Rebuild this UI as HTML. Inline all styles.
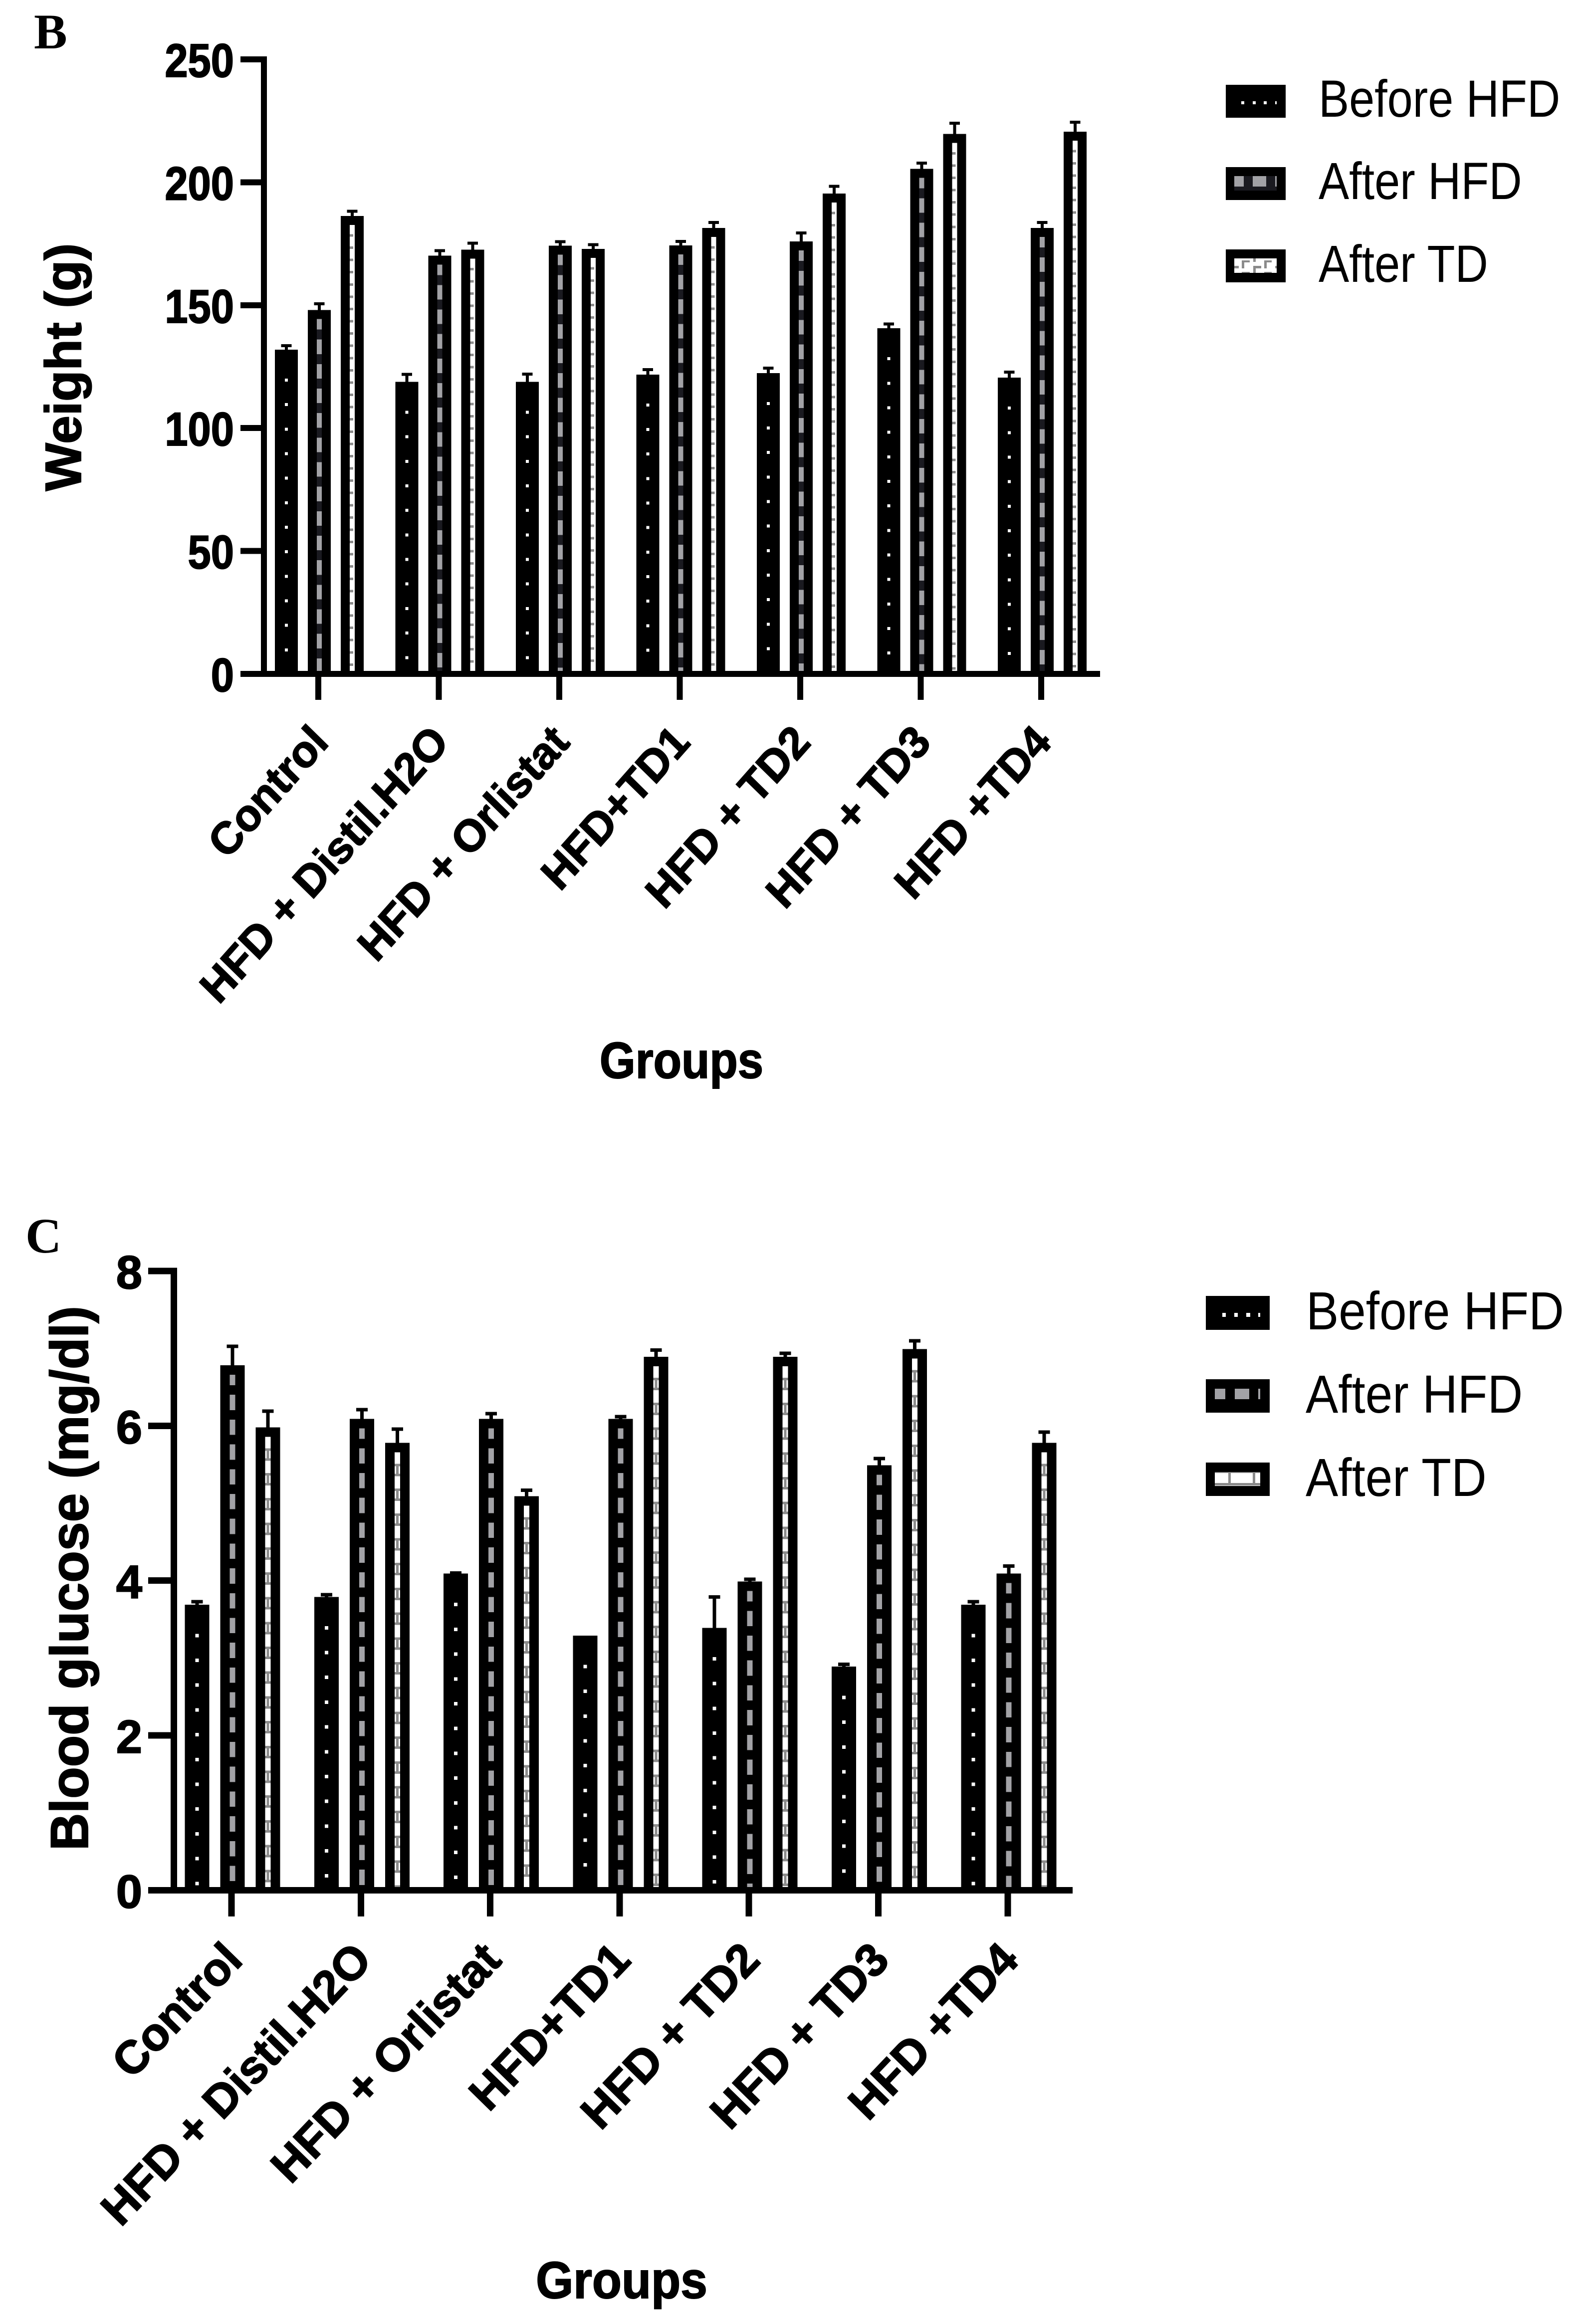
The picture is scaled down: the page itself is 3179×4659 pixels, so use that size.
<!DOCTYPE html>
<html lang="en">
<head>
<meta charset="utf-8">
<title>Weight and blood glucose by group</title>
<style>
html,body{margin:0;padding:0;background:#fff;}
svg{display:block;}
text{font-family:"Liberation Sans",sans-serif;fill:#000;}
.b{font-weight:bold;stroke:#000;stroke-width:2px;}
.panel{font-family:"Liberation Serif",serif;font-weight:bold;}
.crisp{shape-rendering:crispEdges;}
</style>
</head>
<body>
<svg id="fig" xmlns="http://www.w3.org/2000/svg" width="3179" height="4659" viewBox="0 0 3179 4659">
  <rect x="0" y="0" width="3179" height="4659" fill="#fff"></rect>
  <text class="panel" x="68" y="97" font-size="100">B</text>
  <text class="panel" x="51" y="2511" font-size="100">C</text>
  <g id="chartB">
    <text class="b" transform="translate(162,736) rotate(-90)" text-anchor="middle" font-size="102">Weight (g)</text>
    <text class="b" transform="translate(1366,2161) scale(0.905,1)" text-anchor="middle" font-size="102">Groups</text>
  </g>
  <g id="chartC">
    <text class="b" transform="translate(176,3164) rotate(-90) scale(0.972,1)" text-anchor="middle" font-size="107">Blood glucose (mg/dl)</text>
    <text class="b" transform="translate(1246,4607) scale(0.93,1)" text-anchor="middle" font-size="104">Groups</text>
  </g>

  <g id="legendB" class="crisp">
    <g>
      <rect x="2457" y="170" width="120" height="66" fill="#000"></rect>
      <path d="M2488 203h6v6h-6zM2511 203h6v6h-6zM2533 203h6v6h-6zM2556 203h3v6h-3z" fill="#fff"></path>
      <text transform="translate(2643,234) scale(0.877,1)" font-size="104.6">Before HFD</text>
    </g>
    <g>
      <rect x="2457" y="335" width="120" height="66" fill="#000"></rect>
      <rect x="2474" y="353" width="85" height="29" fill="#1a1a20"></rect>
      <path d="M2474 353h19v21h-19zM2511 353h27v21h-27zM2556 353h3v21h-3z" fill="#a2a2a6"></path>
      <text transform="translate(2643,399) scale(0.877,1)" font-size="104.6">After HFD</text>
    </g>
    <g>
      <rect x="2457" y="500" width="120" height="66" fill="#000"></rect>
      <rect x="2474" y="518" width="85" height="29" fill="#fff"></rect>
      <path d="M2489 522h16v4h-11v12h-5zM2534 522h15v4h-10v12h-5zM2512 518h5v7h-5zM2512 533h16v5h-11v9h-5zM2474 533h9v5h-9zM2556 533h3v5h-3zM2489 545h16v2h-16zM2534 545h15v2h-15z" fill="#8b8b8b"></path>
      <text transform="translate(2643,565) scale(0.877,1)" font-size="104.6">After TD</text>
    </g>
  </g>

  <g id="legendC" class="crisp">
    <g>
      <rect x="2417" y="2598" width="128" height="68" fill="#000"></rect>
      <path d="M2450 2632h7v8h-7zM2474 2632h7v8h-7zM2498 2632h8v8h-8zM2522 2632h4v8h-4z" fill="#fff"></path>
      <text transform="translate(2618,2665) scale(0.91,1)" font-size="107.6">Before HFD</text>
    </g>
    <g>
      <rect x="2417" y="2765" width="128" height="67" fill="#000"></rect>
      <path d="M2435 2784h21v21h-21zM2475 2784h29v21h-29zM2522 2784h4v21h-4z" fill="#a2a2a6"></path>
      <text transform="translate(2617,2832) scale(0.91,1)" font-size="107.6">After HFD</text>
    </g>
    <g>
      <rect x="2417" y="2932" width="128" height="67" fill="#000"></rect>
      <rect x="2435" y="2951" width="91" height="28" fill="#fff"></rect>
      <path d="M2435 2951h91v2h-91zM2462 2953h5v20h-5zM2511 2953h5v20h-5zM2435 2973h91v5h-91z" fill="#8b8b8b"></path>
      <text transform="translate(2617,2999) scale(0.91,1)" font-size="107.6">After TD</text>
    </g>
  </g>
</svg>
<script>
// ---- Data ----
const groupLabels = ["Control", "HFD + Distil.H2O", "HFD + Orlistat", "HFD+TD1", "HFD + TD2", "HFD + TD3", "HFD +TD4"];

const weightTicks = [0, 50, 100, 150, 200, 250];
const weightBeforeHFD = [131.9, 118.8, 118.8, 121.8, 122.4, 140.6, 120.5];
const weightAfterHFD = [148.0, 170.2, 174.2, 174.3, 175.9, 205.5, 181.4];
const weightAfterTD = [186.3, 172.6, 172.9, 181.4, 195.4, 219.7, 220.6];
const weightBeforeHFDErr = [2.2, 3.7, 3.8, 2.6, 2.6, 2.4, 2.9];
const weightAfterHFDErr = [3.2, 2.6, 2.2, 2.2, 4.1, 2.9, 2.9];
const weightAfterTDErr = [2.5, 3.2, 2.3, 2.9, 3.6, 4.9, 4.4];

const glucoseTicks = [0, 2, 4, 6, 8];
const glucoseBeforeHFD = [3.69, 3.79, 4.09, 3.29, 3.39, 2.89, 3.69];
const glucoseAfterHFD = [6.78, 6.09, 6.09, 6.09, 3.99, 5.49, 4.09];
const glucoseAfterTD = [5.98, 5.78, 5.09, 6.89, 6.89, 6.99, 5.78];
const glucoseBeforeHFDErr = [0.06, 0.05, 0.03, 0, 0.42, 0.05, 0.06];
const glucoseAfterHFDErr = [0.27, 0.14, 0.09, 0.05, 0.05, 0.11, 0.12];
const glucoseAfterTDErr = [0.23, 0.20, 0.10, 0.11, 0.07, 0.13, 0.16];

// ---- Helpers ----
const NS = "http://www.w3.org/2000/svg";
function add(parent, tag, attrs) {
  const el = document.createElementNS(NS, tag);
  for (const k in attrs) el.setAttribute(k, attrs[k]);
  parent.appendChild(el);
  return el;
}
function box(x, y, w, h) {
  return "M" + x + " " + y + "h" + w + "v" + h + "h" + (-w) + "z";
}

function drawChart(o) {
  const root = document.getElementById(o.id);
  const yOf = v => o.y0 - v * o.yPerUnit;
  const xOf = i => o.x0 + i * o.xStep;
  const marks = add(root, "g", {"class": "crisp"});
  
  

  // series marks
  o.series.forEach((vals, s) => {
    vals.forEach((v, i) => {
      const cx = xOf(i) + o.barOffsets[s];
      const top = yOf(v);
      const base = o.y0;
      const err = o.errors[s][i];
      if (err > 0) {
        const capY = yOf(v + err);
        const stem = add(marks, "path", {d: box(cx - o.stemW / 2, capY, o.stemW, top - capY) + box(cx - o.capW / 2, capY, o.capW, o.capH), fill: "#000"});
        
        
      }
      const bar = add(marks, "rect", {x: cx - o.barW / 2, y: top, width: o.barW, height: base - top, fill: "#000"});
      
      

      const ix = cx - o.innerW / 2;
      let d = "";
      if (s === 0) {
        for (let y = top + o.dotStart; y + o.dotSize / 2 < base - 6; y += o.period) {
          d += box(cx - o.dotSize / 2, y - o.dotSize / 2, o.dotSize, o.dotSize);
        }
        const dots = add(marks, "path", {d: d, fill: "#fff"});
        
        
      } else if (s === 1) {
        const inner = add(marks, "rect", {x: ix, y: top + o.inset, width: o.innerW, height: Math.max(0, base - top - o.inset), fill: o.darkFill});
        
        
        d += box(ix, top + o.inset, o.innerW, 21);
        for (let y = top + o.inset + 21 + o.darkLen; y < base - 6; y += o.period) {
          d += box(ix, y, o.innerW, Math.min(o.period - o.darkLen, base - 6 - y));
        }
        const dash = add(marks, "path", {d: d, fill: "#a2a2a6"});
        
        
      } else {
        const inner = add(marks, "rect", {x: ix, y: top + o.inset, width: o.innerW, height: Math.max(0, base - top - o.inset), fill: "#fff"});
        
        
        if (o.hPattern) {
          for (let y = top + o.tdStart; y < base - 6; y += o.period) {
            d += box(ix, y, o.innerW, 5);
            if (y + 20 < base - 6) {
              d += box(cx - 2.5, y + 5, 5, 15);
              d += box(ix, y + 20, o.innerW, 5);
            }
          }
        } else {
          for (let y = top + o.tdStart; y < base - 6; y += o.period / 2) {
            d += box(ix, y, o.innerW - 3, 5);
          }
        }
        const dash = add(marks, "path", {d: d, fill: "#8b8b8b"});
        
        
      }
    });
  });

  // axes
  const axes = add(root, "g", {"class": "crisp"});
  
  
  const yAxis = add(axes, "rect", {x: o.axisX, y: yOf(o.ticks[o.ticks.length - 1]) - o.lw / 2, width: o.axisW, height: o.y0 - yOf(o.ticks[o.ticks.length - 1]) + o.lw, fill: "#000"});
  
  
  const xAxis = add(axes, "rect", {x: o.tickL, y: o.y0 - o.lw / 2, width: o.xEnd - o.tickL, height: o.lw, fill: "#000"});
  
  

  o.ticks.forEach(t => {
    const tk = add(axes, "rect", {x: o.tickL, y: yOf(t) - o.lw / 2, width: o.axisX - o.tickL, height: o.lw, fill: "#000"});
    
    
    const lab = add(root, "text", {"class": "b", transform: "translate(" + o.tickLabelX + "," + (yOf(t) + 35) + ") scale(" + o.tickSx + ",1)", "text-anchor": "end", "font-size": o.tickFont});
    lab.textContent = String(t);
    
    
  });

  groupLabels.forEach((g, i) => {
    const tk = add(axes, "rect", {x: xOf(i) - o.lw / 2, y: o.y0 + o.lw / 2, width: o.lw, height: o.tickB - o.y0 - o.lw / 2, fill: "#000"});
    
    
    const lab = add(root, "text", {"class": "b", transform: "translate(" + (xOf(i) + o.catDx) + "," + o.catY + ") scale(" + o.catSx + ",1) rotate(" + o.catRot + ")", "text-anchor": "end", "font-size": o.catFont});
    lab.textContent = g;
    
    
  });
}

drawChart({
  id: "chartB",
  series: [weightBeforeHFD, weightAfterHFD, weightAfterTD],
  errors: [weightBeforeHFDErr, weightAfterHFDErr, weightAfterTDErr],
  seriesNames: ["before-hfd", "after-hfd", "after-td"],
  ticks: weightTicks,
  y0: 1351, yPerUnit: 4.928, x0: 638, xStep: 241.5,
  barOffsets: [-64, 2, 68], barW: 46, innerW: 10, inset: 18,
  stemW: 6, capW: 21, capH: 6,
  period: 49.17, dotStart: 61, dotSize: 6, darkLen: 20, darkFill: "#1a1a20", tdStart: 36.5, hPattern: false,
  axisX: 523, axisW: 12, lw: 12, tickL: 482, xEnd: 2205, tickB: 1403,
  tickLabelX: 469, tickFont: 95, tickSx: 0.875,
  catDx: 24, catY: 1491, catRot: -47, catFont: 90, catSx: 0.95
});

drawChart({
  id: "chartC",
  series: [glucoseBeforeHFD, glucoseAfterHFD, glucoseAfterTD],
  errors: [glucoseBeforeHFDErr, glucoseAfterHFDErr, glucoseAfterTDErr],
  seriesNames: ["before-hfd", "after-hfd", "after-td"],
  ticks: glucoseTicks,
  y0: 3789.5, yPerUnit: 155.2, x0: 464, xStep: 259.3,
  barOffsets: [-69, 2, 73], barW: 49, innerW: 11, inset: 19,
  stemW: 7, capW: 23, capH: 7,
  period: 49.7, dotStart: 62, dotSize: 7, darkLen: 19, darkFill: "#000", tdStart: 42, hPattern: true,
  axisX: 342, axisW: 13, lw: 13, tickL: 297, xEnd: 2150, tickB: 3842,
  tickLabelX: 285, tickFont: 94, tickSx: 1.0,
  catDx: 26, catY: 3933, catRot: -46, catFont: 93, catSx: 0.985
});
</script>
</body>
</html>
